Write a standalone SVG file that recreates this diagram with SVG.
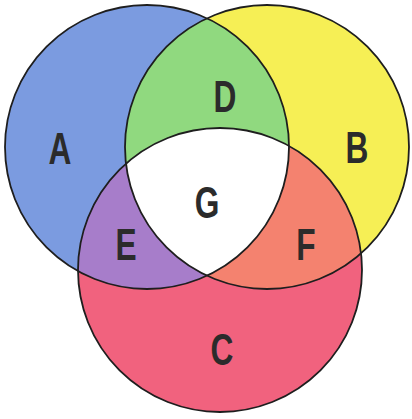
<svg xmlns="http://www.w3.org/2000/svg" width="412" height="419" viewBox="0 0 412 419">
  <style>
    .edge { fill: none; stroke: #1e1e1e; stroke-width: 1.8; }
    .lbl { font-family: "Liberation Sans", "DejaVu Sans", sans-serif; font-weight: bold; font-size: 44px; fill: #2b2b2b; text-anchor: middle; }
  </style>
  <defs>
    <circle id="cA" cx="147" cy="147" r="142"/>
    <circle id="cB" cx="267" cy="147" r="142"/>
    <circle id="cC" cx="220" cy="270" r="142"/>
    <clipPath id="clipA"><use href="#cA"/></clipPath>
    <clipPath id="clipB"><use href="#cB"/></clipPath>
    <clipPath id="clipC"><use href="#cC"/></clipPath>
  </defs>
  <rect width="412" height="419" fill="#ffffff"/>
  <g id="A">
    <use href="#cA" fill="#7b9be0"/>
  </g>
  <g id="B">
    <use href="#cB" fill="#f6ef55"/>
  </g>
  <g id="C">
    <use href="#cC" fill="#f1627e"/>
  </g>
  <g id="D">
    <g clip-path="url(#clipA)"><use href="#cB" fill="#90d97f"/></g>
  </g>
  <g id="E">
    <g clip-path="url(#clipA)"><use href="#cC" fill="#a77dca"/></g>
  </g>
  <g id="F">
    <g clip-path="url(#clipB)"><use href="#cC" fill="#f4826f"/></g>
  </g>
  <g id="G">
    <g clip-path="url(#clipA)"><g clip-path="url(#clipB)"><use href="#cC" fill="#ffffff"/></g></g>
  </g>
  <g id="outlines">
    <use href="#cA" class="edge"/>
    <use href="#cB" class="edge"/>
    <use href="#cC" class="edge"/>
  </g>
  <g id="labels">
    <text class="lbl" transform="translate(60,164) scale(0.72,1)">A</text>
    <text class="lbl" transform="translate(225,112) scale(0.72,1)">D</text>
    <text class="lbl" transform="translate(357,163) scale(0.72,1)">B</text>
    <text class="lbl" transform="translate(207,218) scale(0.72,1)">G</text>
    <text class="lbl" transform="translate(126,260) scale(0.72,1)">E</text>
    <text class="lbl" transform="translate(306,260) scale(0.72,1)">F</text>
    <text class="lbl" transform="translate(222,365) scale(0.72,1)">C</text>
  </g>
</svg>
